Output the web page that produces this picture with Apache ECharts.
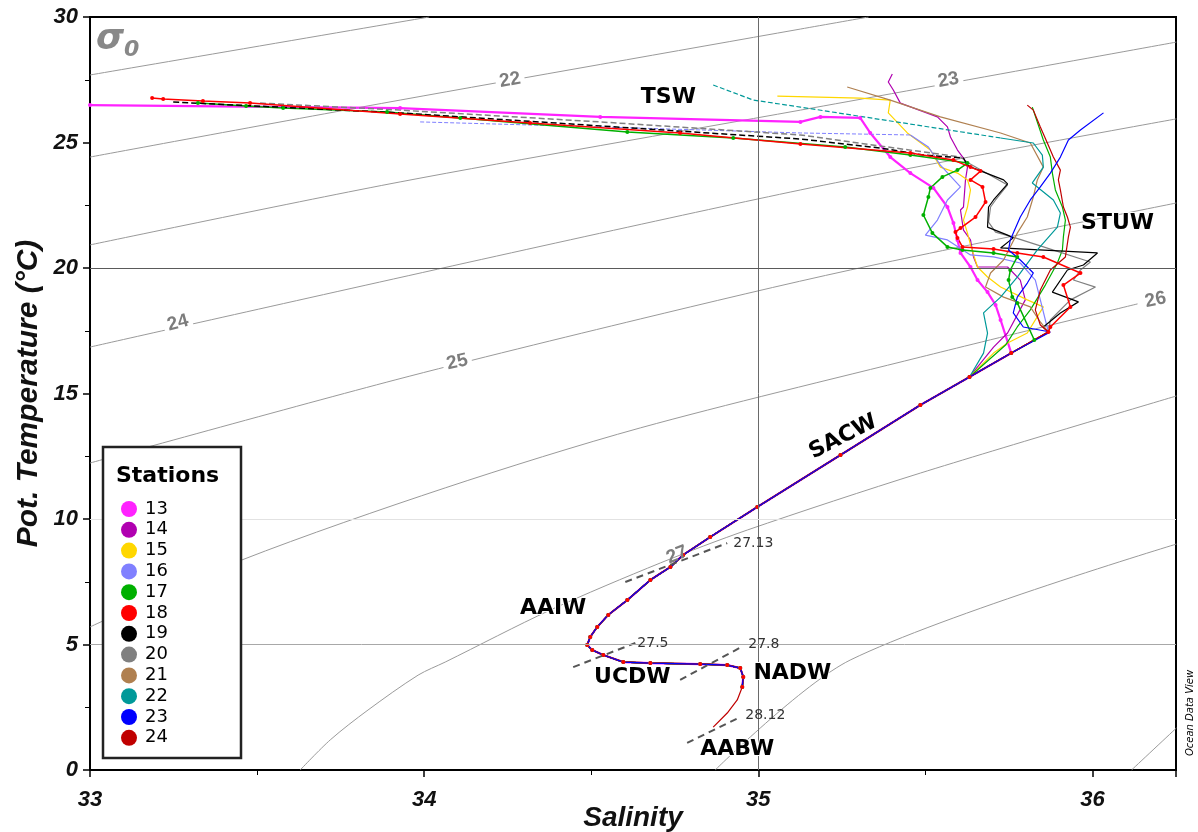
<!DOCTYPE html>
<html><head><meta charset="utf-8">
<script src="https://cdn.jsdelivr.net/npm/echarts@6/dist/echarts.min.js"></script>
<style>html,body{margin:0;padding:0;background:#fff}#c{width:1198px;height:832px}</style>
</head><body><div id="c"></div>
<script>
// ---------------- DATA ----------------
const salinityRange = [33, 36.25];
const tempRange = [0, 30];
const stationNames = ['13','14','15','16','17','18','19','20','21','22','23','24'];
const stationColors = ['#ff22ff','#b000b0','#ffd700','#8080ff','#00b000','#ff0000','#000000','#808080','#b08050','#009999','#0000ff','#c00000'];

// common deep profile (SACW -> AAIW -> UCDW -> NADW), [salinity, pot. temperature]
const deepProfile = [[35.868,17.45],[35.757,16.61],[35.632,15.66],[35.485,14.54],[35.246,12.55],[34.997,10.48],[34.856,9.28],[34.775,8.57],[34.737,8.09],[34.677,7.57],[34.608,6.77],[34.551,6.18],[34.518,5.70],[34.497,5.30],[34.488,4.98],[34.503,4.78],[34.536,4.58],[34.596,4.30],[34.677,4.26],[34.826,4.22],[34.907,4.18],[34.946,4.06],[34.955,3.71],[34.952,3.31]];
const abyssTail = [[34.937,2.79],[34.907,2.27],[34.865,1.71]];

const st13 = [[33.0,26.49],[33.928,26.37],[34.527,26.02],[35.126,25.82],[35.186,26.02],[35.305,25.98],[35.335,25.38],[35.395,24.42],[35.455,23.78],[35.524,23.19],[35.566,22.43],[35.584,21.79],[35.596,21.12],[35.605,20.60],[35.635,20.04],[35.656,19.52],[35.686,19.04],[35.710,18.53],[35.725,17.93],[35.757,16.61]];
const st14 = [[35.401,27.73],[35.389,27.41],[35.404,27.09],[35.425,26.57],[35.536,26.02],[35.566,25.62],[35.575,25.22],[35.596,24.70],[35.614,24.38],[35.626,24.02],[35.620,23.51],[35.614,22.43],[35.605,22.31],[35.614,21.51],[35.635,21.12],[35.644,20.44],[35.656,20.04],[35.746,20.04],[35.784,19.52],[35.799,18.73],[35.746,17.41],[35.704,16.85],[35.632,15.66]];
const st15 = [[35.057,26.85],[35.305,26.77],[35.395,26.69],[35.389,26.18],[35.446,25.38],[35.515,24.70],[35.545,24.02],[35.596,23.78],[35.626,23.51],[35.635,23.11],[35.626,22.43],[35.614,21.91],[35.626,21.39],[35.635,20.92],[35.656,20.04],[35.686,19.64],[35.725,19.24],[35.805,18.73],[35.853,18.45],[35.805,17.41],[35.746,17.01],[35.704,16.61],[35.632,15.66]];
const st16Surface = [[33.988,25.82],[34.527,25.62],[35.126,25.38],[35.455,25.30]];
const st16 = [[35.455,25.30],[35.509,24.82],[35.545,24.10],[35.605,23.23],[35.566,22.71],[35.536,21.91],[35.500,21.31],[35.566,21.12],[35.635,20.52],[35.704,20.44],[35.784,20.20],[35.829,19.52],[35.844,18.73]];
const st17 = [[33.323,26.57],[33.467,26.45],[33.578,26.37],[33.889,26.22],[34.108,25.98],[34.608,25.42],[34.925,25.18],[35.260,24.82],[35.455,24.50],[35.626,24.18],[35.596,23.90],[35.551,23.63],[35.515,23.19],[35.509,22.83],[35.494,22.11],[35.521,21.39],[35.566,20.84],[35.611,20.72],[35.704,20.60],[35.775,20.44],[35.754,19.92],[35.749,19.52],[35.760,18.84],[35.775,18.61],[35.826,17.13]];
const st17b = [[35.820,26.41],[35.853,25.10],[35.874,24.42],[35.880,23.78],[35.889,23.11],[35.910,22.43],[35.919,21.91],[35.913,21.24],[35.910,20.72],[35.895,20.20],[35.859,19.32],[35.814,18.33],[35.775,17.65],[35.740,16.93],[35.632,15.66]];
const st18 = [[33.186,26.77],[33.219,26.73],[33.338,26.65],[33.479,26.57],[33.928,26.14],[34.317,25.78],[34.766,25.38],[35.126,24.94],[35.455,24.58],[35.584,24.30],[35.635,24.02],[35.665,23.86],[35.635,23.51],[35.671,23.23],[35.680,22.63],[35.650,22.03],[35.605,21.59],[35.590,21.43],[35.596,21.20],[35.611,20.84],[35.704,20.76],[35.775,20.60],[35.853,20.44],[35.964,19.80],[35.913,19.32],[35.934,18.45],[35.874,17.65]];
const st19Surface = [[33.249,26.61],[33.928,26.18],[34.527,25.66],[35.126,25.14],[35.365,24.78],[35.494,24.50],[35.614,24.38]];
const st19 = [[35.614,24.38],[35.626,24.10],[35.644,23.98],[35.734,23.51],[35.746,23.35],[35.704,22.71],[35.689,22.43],[35.686,21.63],[35.746,21.31],[35.763,21.20],[35.725,20.80],[36.015,20.60],[35.973,20.12],[35.925,19.92],[35.880,19.04],[35.958,18.65],[35.904,18.21],[35.853,17.65]];
const st20Surface = [[33.509,26.57],[33.928,26.29],[34.527,25.82],[35.126,25.30],[35.605,24.42]];
const st20 = [[35.605,24.42],[35.629,24.18],[35.746,23.31],[35.710,22.71],[35.695,22.43],[35.689,21.83],[35.710,21.43],[35.760,21.24],[35.844,20.88],[35.994,20.24],[35.964,19.92],[35.943,19.52],[36.009,19.24],[35.934,18.73],[35.874,17.93]];
const st21 = [[35.266,27.21],[35.395,26.69],[35.545,26.02],[35.725,25.38],[35.814,24.98],[35.853,24.02],[35.835,23.51],[35.823,22.83],[35.805,22.03],[35.775,21.39],[35.734,20.32],[35.695,19.80],[35.680,19.24],[35.734,18.84],[35.814,18.45],[35.844,17.85]];
const st22Surface = [[34.865,27.29],[34.985,26.69],[35.126,26.41],[35.725,25.18]];
const st22 = [[35.725,25.18],[35.823,24.98],[35.850,24.50],[35.853,24.02],[35.820,23.39],[35.883,22.71],[35.904,22.19],[35.895,21.63],[35.835,20.72],[35.775,19.64],[35.725,18.84],[35.674,18.21],[35.686,17.41],[35.674,16.61],[35.632,15.66]];
const st23 = [[36.033,26.18],[35.964,25.50],[35.928,25.10],[35.904,24.42],[35.874,23.78],[35.844,23.23],[35.814,22.71],[35.784,22.03],[35.754,21.12],[35.749,20.72],[35.784,20.32],[35.823,19.80],[35.805,19.40],[35.775,18.84],[35.763,18.21],[35.793,17.65],[35.874,17.45]];
const st24 = [[35.805,26.49],[35.823,26.29],[35.844,25.62],[35.865,24.98],[35.883,24.42],[35.904,23.90],[35.898,23.51],[35.904,23.11],[35.913,22.43],[35.925,22.03],[35.934,21.63],[35.928,21.24],[35.919,20.44],[35.874,19.92],[35.844,19.12],[35.829,18.33],[35.844,17.73]];

// isopycnals sigma0
const iso21 = [[33.0,27.69],[34.015,30.0]];
const iso22 = [[33.0,24.42],[33.928,26.69],[35.126,29.52],[35.33,30.0]];
const iso23 = [[33.0,20.92],[33.928,23.43],[35.126,26.29],[36.251,29.0]];
const iso24 = [[33.0,16.85],[35.126,23.11],[36.251,25.94]];
const iso25 = [[33.0,12.23],[33.913,15.54],[34.647,17.97],[35.275,19.92],[36.251,22.59]];
const iso26 = [[33.0,5.70],[33.455,8.37],[34.063,11.24],[34.647,13.63],[35.485,16.45],[36.135,18.57]];
const iso27 = [[33.629,0],[33.719,1.20],[33.832,2.39],[33.982,3.78],[34.063,4.30],[34.377,6.37],[34.707,8.25],[34.967,9.56],[35.485,11.83],[36.251,14.9]];
const iso28 = [[34.871,0],[35.275,4.38],[36.251,9.0]];
const iso29 = [[36.117,0],[36.251,1.67]];
const isoLabels = [['22',34.257,27.49,10],['23',35.569,27.49,10],['24',33.263,17.81,15],['25',34.099,16.25,13],['26',36.189,18.73,12],['27',34.757,8.57,22]];

// water mass labels
const waterMasses = [['TSW',34.731,26.81,0],['STUW',36.075,21.79,0],['SACW',35.254,13.27,27],['AAIW',34.386,6.45,0],['UCDW',34.623,3.71,0],['NADW',35.102,3.86,0],['AABW',34.937,0.84,0]];

// boundary isopycnal markers (dashed)
const boundaries = [
  {label:'27.13', line:[[34.602,7.49],[34.907,9.04]], at:[34.925,9.04]},
  {label:'27.5',  line:[[34.446,4.10],[34.632,5.06]], at:[34.638,5.06]},
  {label:'27.8',  line:[[34.766,3.59],[34.955,4.94]], at:[34.970,5.02]},
  {label:'28.12', line:[[34.787,1.08],[34.946,2.11]], at:[34.961,2.19]}
];

// --------------- BUILD ---------------
function withDeep(arr, tail){
  const last = arr[arr.length-1];
  return arr.concat(deepProfile.filter(p => p[1] < last[1])).concat(tail || []);
}
const axisFont = {fontFamily:'Liberation Sans', fontWeight:'bold', fontStyle:'italic', color:'#111'};
const series = [];

// grid reference lines
series.push({type:'line', data:[], silent:true, z:1,
  markLine:{silent:true, symbol:'none', label:{show:false}, animation:false,
    data:[
      {xAxis:35, lineStyle:{color:'#6a6a6a', width:1, type:'solid'}},
      {yAxis:20, lineStyle:{color:'#5a5a5a', width:1.2, type:'solid'}},
      {yAxis:10, lineStyle:{color:'#e2e2e2', width:1.2, type:'solid'}},
      {yAxis:5, lineStyle:{color:'#a8a8a8', width:1, type:'solid'}}
    ]}});

[iso21,iso22,iso23,iso24,iso25,iso26,iso27,iso28,iso29].forEach(d => {
  series.push({type:'line', data:d, symbol:'none', silent:true, z:1, smooth:0.3,
    lineStyle:{color:'#9a9a9a', width:1}});
});

function stationLine(name, data, opts){
  const c = stationColors[stationNames.indexOf(name)];
  return {
    type:'line', name:name, data:data, z:3,
    symbol: opts.dots ? 'circle' : 'none', symbolSize: opts.dots || 0, showSymbol: !!opts.dots,
    itemStyle:{color:c}, lineStyle:{color:c, width:opts.width || 1, type:opts.type || 'solid'},
    emphasis:{disabled:true}, animation:false
  };
}
series.push(stationLine('13', withDeep(st13), {width:2.2, dots:4}));
series.push(stationLine('14', withDeep(st14), {width:1.2}));
series.push(stationLine('15', withDeep(st15), {width:1.2}));
series.push(stationLine('16', st16Surface, {type:'dashed'}));
series.push(stationLine('16', withDeep(st16), {width:1.2}));
series.push(stationLine('17', withDeep(st17b), {width:1.2}));
series.push(stationLine('17', withDeep(st17), {width:1.5, dots:4}));
series.push(stationLine('20', st20Surface, {type:'dashed', width:1.5}));
series.push(stationLine('20', withDeep(st20), {width:1.2}));
series.push(stationLine('19', st19Surface, {type:'dashed', width:1.5}));
series.push(stationLine('19', withDeep(st19), {width:1.2}));
series.push(stationLine('21', withDeep(st21), {width:1.2}));
series.push(stationLine('22', st22Surface, {type:'dashed', width:1.2}));
series.push(stationLine('22', withDeep(st22), {width:1.2}));
series.push(stationLine('18', withDeep(st18), {width:1.5, dots:4}));
series.push(stationLine('24', withDeep(st24, abyssTail), {width:1.2}));
series.push(stationLine('23', withDeep(st23), {width:1.2}));

// boundary dashed lines
boundaries.forEach(b => {
  series.push({type:'line', data:b.line, symbol:'none', silent:true, z:4,
    lineStyle:{color:'#555', width:2, type:[7,5]}});
});
// labels
const centered = {position:[0,0], align:'center', verticalAlign:'middle'};
series.push({type:'scatter', silent:true, z:6, symbolSize:0, itemStyle:{opacity:1},
  data: boundaries.map(b => ({value:b.at, label:{show:true, formatter:b.label, position:'right', distance:0,
    fontFamily:'DejaVu Sans', fontSize:14, color:'#333'}}))
    .concat(isoLabels.map(l => ({value:[l[1],l[2]], label:Object.assign({show:true, formatter:l[0], rotate:l[3],
      fontFamily:'Liberation Sans', fontWeight:'bold', fontSize:19, color:'#7d7d7d',
      backgroundColor: l[0]==='27' ? 'transparent' : '#fff', padding:[0,4]}, centered)})))
    .concat(waterMasses.map(w => ({value:[w[1],w[2]], label:Object.assign({show:true, formatter:w[0], rotate:w[3],
      fontFamily:'DejaVu Sans', fontWeight:'bold', fontSize:22, color:'#000', textBorderColor:'#fff', textBorderWidth:2}, centered)})))
});

const chart = echarts.init(document.getElementById('c'), null, {renderer:'canvas'});
chart.setOption({
  animation:false,
  backgroundColor:'#fff',
  grid:{left:90, top:17, right:22, bottom:62, show:true, borderColor:'#000', borderWidth:2, backgroundColor:'transparent',
    containLabel:false, outerBoundsMode:'none'},
  xAxis:{type:'value', min:salinityRange[0], max:salinityRange[1], interval:1,
    axisLine:{show:true, onZero:false, lineStyle:{color:'#000', width:2}},
    axisTick:{show:true, length:7, lineStyle:{color:'#000', width:1.5}},
    minorTick:{show:true, splitNumber:2, length:5, lineStyle:{color:'#000', width:1}},
    splitLine:{show:false},
    axisLabel:Object.assign({fontSize:22, margin:19, showMaxLabel:false}, axisFont),
    name:'Salinity', nameLocation:'middle', nameGap:34, nameMoveOverlap:false,
    nameTextStyle:Object.assign({fontSize:28}, axisFont)},
  yAxis:{type:'value', min:tempRange[0], max:tempRange[1], interval:5,
    axisLine:{show:true, onZero:false, lineStyle:{color:'#000', width:2}},
    axisTick:{show:true, length:7, lineStyle:{color:'#000', width:1.5}},
    minorTick:{show:true, splitNumber:2, length:5, lineStyle:{color:'#000', width:1}},
    splitLine:{show:false},
    axisLabel:Object.assign({fontSize:22, margin:12}, axisFont),
    name:'Pot. Temperature (°C)', nameLocation:'middle', nameGap:46, nameRotate:90, nameMoveOverlap:false,
    nameTextStyle:Object.assign({fontSize:30}, axisFont)},
  legend:{data:stationNames, orient:'vertical', left:116, top:495, itemWidth:16, itemHeight:16, itemGap:2.8,
    icon:'circle', selectedMode:false, z:10,
    textStyle:{fontFamily:'DejaVu Sans', fontSize:18, color:'#000', padding:[0,0,0,3]}},
  graphic:[
    {type:'rect', z:8, shape:{x:103, y:447, width:138, height:311}, style:{fill:'#fff', stroke:'#222', lineWidth:2.5}},
    {type:'text', z:11, x:116, y:476, style:{text:'Stations', fontFamily:'DejaVu Sans', fontWeight:'bold', fontSize:22, fill:'#000', verticalAlign:'middle'}},
    {type:'text', z:11, x:96, y:40, style:{text:'σ', fontFamily:'DejaVu Sans', fontWeight:'bold', fontStyle:'italic', fontSize:36, fill:'#888', verticalAlign:'middle'}},
    {type:'text', z:11, x:124, y:50, style:{text:'0', fontFamily:'DejaVu Sans', fontWeight:'bold', fontStyle:'italic', fontSize:22, fill:'#888', verticalAlign:'middle'}},
    {type:'text', z:11, x:1190, y:713, rotation:Math.PI/2, style:{text:'Ocean Data View', fontFamily:'DejaVu Sans', fontStyle:'italic', fontSize:10, fill:'#000', align:'center', verticalAlign:'middle'}}
  ],
  series:series
});
</script></body></html>
